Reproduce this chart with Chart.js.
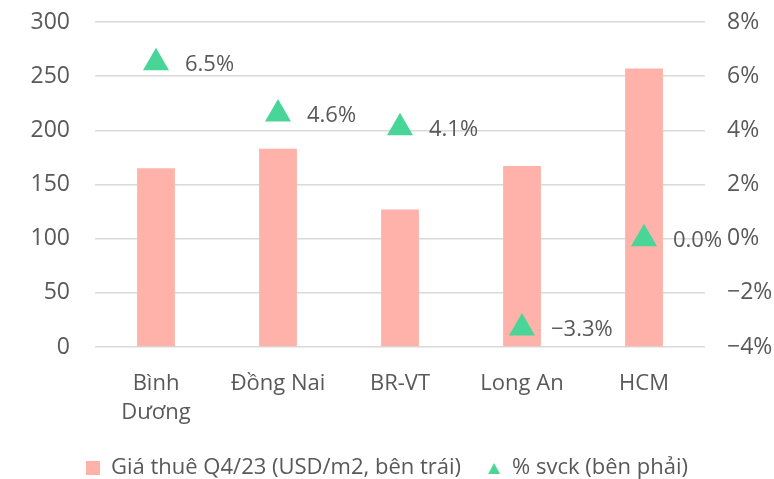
<!DOCTYPE html>
<html>
<head>
<meta charset="utf-8">
<script src="https://cdn.jsdelivr.net/npm/chart.js@4"></script>
<style>
    html, body { margin: 0; padding: 0; background: #fff; }
    #wrap { width: 774px; height: 479px; }
</style>
</head>
<body>
<div id="wrap"><canvas id="chart"></canvas></div>
<script>
    var categories = [['Bình', 'Dương'], 'Đồng Nai', 'BR-VT', 'Long An', 'HCM'];
    var rentValues = [165, 183, 127, 167, 257];
    var yoyValues = [6.5, 4.6, 4.1, -3.3, 0.0];

    var rentLabel = 'Giá thuê Q4/23 (USD/m2, bên trái)';
    var yoyLabel = '% svck (bên phải)';

    var FONT = '"Open Sans", sans-serif';
    var TEXT = '#595959';
    var PINK = '#FFB2A9';
    var GREEN = '#48D597';

    function fmtMinus(s) {
        return String(s).replace('-', '\u2212');
    }

    // small legend markers
    function marker(kind) {
        var c = document.createElement('canvas');
        c.width = 14;
        c.height = 14;
        var g = c.getContext('2d');
        if (kind === 'rect') {
            g.fillStyle = PINK;
            g.fillRect(0, 0, 14, 14);
        } else {
            g.fillStyle = GREEN;
            g.beginPath();
            g.moveTo(7, 2);
            g.lineTo(13, 13);
            g.lineTo(1, 13);
            g.closePath();
            g.fill();
        }
        return c;
    }
    var rectMarker = marker('rect');
    var triMarker = marker('tri');

    // draws the % labels right of each triangle
    var pointLabels = {
        id: 'pointLabels',
        afterDatasetsDraw: function(chart) {
            var meta = chart.getDatasetMeta(1);
            var ctx = chart.ctx;
            ctx.save();
            ctx.font = '22px ' + FONT;
            ctx.fillStyle = TEXT;
            ctx.textAlign = 'left';
            ctx.textBaseline = 'middle';
            meta.data.forEach(function(p, i) {
                ctx.fillText(fmtMinus(yoyValues[i].toFixed(1)) + '%', p.x + 29, p.y + 2);
            });
            ctx.restore();
        }
    };

    function noPad(scale) {
        scale.paddingTop = 0;
        scale.paddingBottom = 0;
        scale.paddingLeft = 0;
        scale.paddingRight = 0;
    }

    new Chart(document.getElementById('chart'), {
        type: 'bar',
        data: {
            labels: categories,
            datasets: [
                {
                    label: rentLabel,
                    data: rentValues,
                    backgroundColor: PINK,
                    barPercentage: 0.62,
                    categoryPercentage: 0.5,
                    yAxisID: 'y',
                    pointStyle: rectMarker,
                    order: 2
                },
                {
                    type: 'line',
                    label: yoyLabel,
                    data: yoyValues,
                    showLine: false,
                    pointStyle: 'triangle',
                    pointRadius: 15,
                    pointHoverRadius: 15,
                    pointBackgroundColor: GREEN,
                    pointBorderWidth: 0,
                    backgroundColor: GREEN,
                    borderColor: GREEN,
                    yAxisID: 'y1',
                    order: 1
                }
            ]
        },
        options: {
            responsive: true,
            maintainAspectRatio: false,
            animation: false,
            layout: { padding: { top: 22, left: 0, right: 0, bottom: -10 } },
            plugins: {
                legend: {
                    position: 'bottom',
                    labels: {
                        usePointStyle: true,
                        boxHeight: 14,
                        boxWidth: 14,
                        padding: 26,
                        color: TEXT,
                        font: { family: FONT, size: 22 },
                        sort: function(a, b) { return a.datasetIndex - b.datasetIndex; },
                        generateLabels: function(chart) {
                            var items = Chart.defaults.plugins.legend.labels.generateLabels(chart);
                            items.forEach(function(it) {
                                it.pointStyle = it.datasetIndex === 0 ? rectMarker : triMarker;
                            });
                            return items;
                        }
                    }
                },
                tooltip: { enabled: false }
            },
            scales: {
                x: {
                    grid: { display: false, drawTicks: false },
                    border: { display: false },
                    ticks: {
                        color: TEXT,
                        padding: 22,
                        maxRotation: 0,
                        font: { family: FONT, size: 22, lineHeight: 1.32 }
                    },
                    afterFit: function(scale) { noPad(scale); scale.height = 84; }
                },
                y: {
                    position: 'left',
                    min: 0,
                    max: 300,
                    ticks: {
                        stepSize: 50,
                        color: TEXT,
                        padding: 25,
                        font: { family: FONT, size: 23 }
                    },
                    grid: { color: '#D9D9D9', lineWidth: 1.5, drawTicks: false },
                    border: { display: false },
                    afterFit: function(scale) { noPad(scale); scale.width = 95; }
                },
                y1: {
                    position: 'right',
                    min: -4,
                    max: 8,
                    ticks: {
                        stepSize: 2,
                        color: TEXT,
                        padding: 22,
                        font: { family: FONT, size: 23 },
                        callback: function(v) { return fmtMinus(v) + '%'; }
                    },
                    grid: { display: false, drawTicks: false },
                    border: { display: false },
                    afterFit: function(scale) { noPad(scale); scale.width = 69; }
                }
            }
        },
        plugins: [pointLabels]
    });
</script>
</body>
</html>
